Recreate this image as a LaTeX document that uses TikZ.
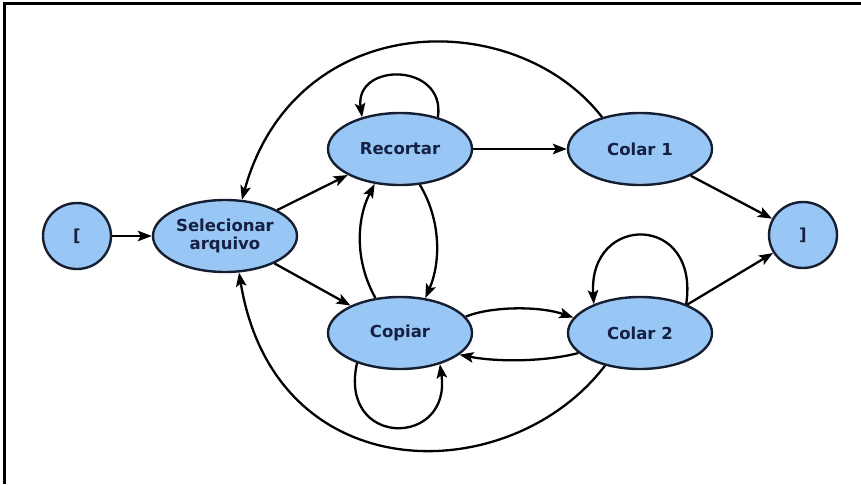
\documentclass[tikz,border=0pt]{standalone}
\usepackage{fontspec}
\setmainfont{DejaVu Sans}
\usetikzlibrary{shapes.geometric,arrows.meta}
\definecolor{statefill}{RGB}{153,199,245}
\definecolor{stateline}{RGB}{22,30,48}
\definecolor{statetext}{RGB}{22,32,66}
\begin{document}
\begin{tikzpicture}[x=1pt,y=-1pt,
  state/.style={ellipse,draw=stateline,line width=2.4pt,fill=statefill,
    minimum width=144pt,minimum height=72pt,inner sep=0pt,align=center,
    text=statetext,font=\bfseries\fontsize{16.5}{17.5}\selectfont},
  endpoint/.style={state,minimum width=68pt,minimum height=66pt},
  trans/.style={line width=2.3pt,draw=black,-{Stealth[length=14pt,width=10.5pt,inset=3pt]}},
  frame/.style={line width=3pt,draw=black}]
\useasboundingbox (0,0) rectangle (861,484);
% frame along top and left
\coordinate (fa) at (4,484);
\coordinate (fb) at (4,4);
\coordinate (fc) at (861,4);
\draw[frame] (fa) -- (fb) -- (fc);

% states
\node[endpoint] (ini) at (77,236) {[};
\node[state] (sel) at (225,236) {Selecionar\\arquivo};
\node[state] (rec) at (400,149) {Recortar};
\node[state] (cop) at (400,333) {Copiar};
\node[state] (c1) at (640,149) {Colar 1};
\node[state] (c2) at (640,333) {Colar 2};
\node[endpoint] (fim) at (803,235) {]};

% straight transitions
\draw[trans] (ini) -- (sel);
\draw[trans] (sel) -- (rec);
\draw[trans] (sel) -- (cop);
\draw[trans] (rec) -- (c1);
\draw[trans] (c1) -- (fim);
\draw[trans] (c2) -- (fim);

% self loops
\draw[trans] (rec.40) .. controls (446,62) and (354,62) .. (rec.140);
\draw[trans] (cop.215) .. controls (338,448) and (452,448) .. (cop.322);
\draw[trans] (c2.32) .. controls (700,213) and (588,213) .. (c2.148);

% between Recortar and Copiar
\draw[trans] (rec.299) .. controls (441,220) and (441,262) .. (cop.54);
\draw[trans] (cop.125) .. controls (355,262) and (356,220) .. (rec.234);

% between Copiar and Colar 2
\draw[trans] (cop.14) .. controls (492,306) and (540,306) .. (c2.167);
\draw[trans] (c2.198) .. controls (544,362) and (496,362) .. (cop.340);

% back to Selecionar arquivo
\draw[trans] (c1.140) .. controls (515,5) and (295,8) .. (sel.65);
\draw[trans] (c2.223) .. controls (510,490) and (275,492) .. (sel.291);
\end{tikzpicture}
\end{document}
